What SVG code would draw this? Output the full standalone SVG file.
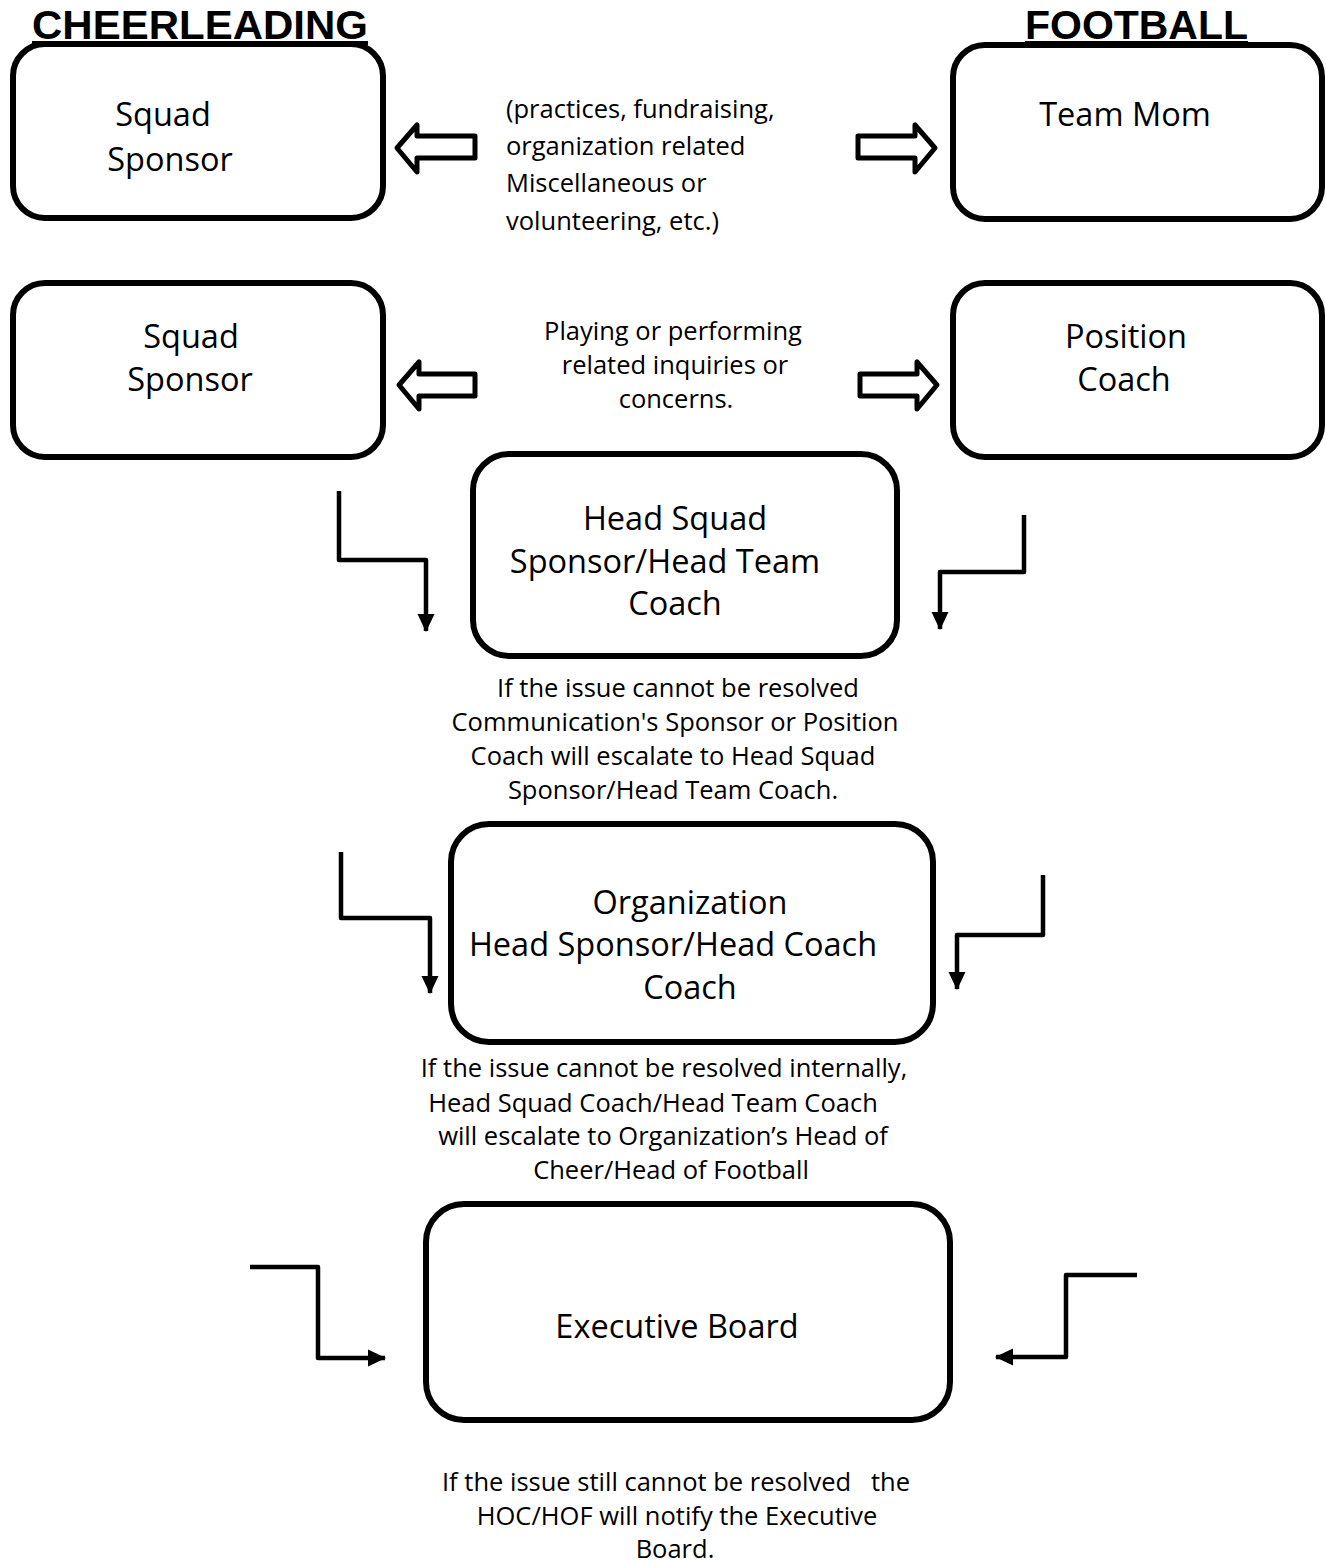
<svg xmlns="http://www.w3.org/2000/svg" width="1326" height="1562" viewBox="0 0 1326 1562">
<defs>
<style>
.box{fill:none;stroke:#000;stroke-width:6}
.lbl{font-family:"Open Sans","Noto Sans",sans-serif;font-size:32.5px;fill:#000;text-anchor:middle}
.sm{font-family:"Open Sans","Noto Sans",sans-serif;font-size:25.5px;fill:#000}
.c{text-anchor:middle}
.ttl{font-family:"Liberation Sans",Arial,sans-serif;font-size:40px;font-weight:bold;fill:#000;text-decoration:underline}
.blk{fill:#fff;stroke:#000;stroke-width:5;stroke-linejoin:round}
.con{fill:none;stroke:#000;stroke-width:4.5;stroke-linejoin:round}
</style>
<marker id="ah" markerUnits="userSpaceOnUse" markerWidth="18" markerHeight="18" viewBox="0 0 18 18" refX="17" refY="9" orient="auto">
<path d="M0,0.5 L18,9 L0,17.5 z" fill="#000"/>
</marker>
</defs>
<rect width="1326" height="1562" fill="#fff"/>

<g id="title-cheer"><text class="ttl" x="32" y="39" textLength="336" lengthAdjust="spacingAndGlyphs">CHEERLEADING</text></g>
<g id="title-football"><text class="ttl" x="1025" y="39" textLength="223" lengthAdjust="spacingAndGlyphs">FOOTBALL</text></g>

<g id="n-squad1">
<rect class="box" x="13" y="44" width="370" height="174" rx="32"/>
<text class="lbl" x="163" y="126">Squad</text>
<text class="lbl" x="170" y="171">Sponsor</text>
</g>
<g id="n-teammom">
<rect class="box" x="953" y="45" width="369" height="174" rx="32"/>
<text class="lbl" x="1125" y="126">Team Mom</text>
</g>
<g id="n-squad2">
<rect class="box" x="13" y="283" width="370" height="174" rx="32"/>
<text class="lbl" x="191" y="348">Squad</text>
<text class="lbl" x="190" y="391">Sponsor</text>
</g>
<g id="n-position">
<rect class="box" x="953" y="283" width="369" height="174" rx="32"/>
<text class="lbl" x="1126" y="348">Position</text>
<text class="lbl" x="1124" y="391">Coach</text>
</g>
<g id="n-head">
<rect class="box" x="473" y="454" width="424" height="202" rx="36"/>
<text class="lbl" x="675" y="530">Head Squad</text>
<text class="lbl" x="665" y="573">Sponsor/Head Team</text>
<text class="lbl" x="675" y="615">Coach</text>
</g>
<g id="n-org">
<rect class="box" x="451" y="824" width="482" height="218" rx="38"/>
<text class="lbl" x="690" y="914">Organization</text>
<text class="lbl" x="673" y="956">Head Sponsor/Head Coach</text>
<text class="lbl" x="690" y="999">Coach</text>
</g>
<g id="n-exec">
<rect class="box" x="426" y="1204" width="524" height="216" rx="38"/>
<text class="lbl" x="677" y="1338">Executive Board</text>
</g>

<g id="texts">
<text class="sm" x="506" y="118">(practices, fundraising,</text>
<text class="sm" x="506" y="155">organization related</text>
<text class="sm" x="506" y="192">Miscellaneous or</text>
<text class="sm" x="506" y="230">volunteering, etc.)</text>

<text class="sm c" x="673" y="340">Playing or performing</text>
<text class="sm c" x="675" y="374">related inquiries or</text>
<text class="sm c" x="676" y="408">concerns.</text>

<text class="sm c" x="678" y="697">If the issue cannot be resolved</text>
<text class="sm c" x="675" y="731">Communication's Sponsor or Position</text>
<text class="sm c" x="673" y="765">Coach will escalate to Head Squad</text>
<text class="sm c" x="673" y="799">Sponsor/Head Team Coach.</text>

<text class="sm c" x="664" y="1077">If the issue cannot be resolved internally,</text>
<text class="sm c" x="653" y="1112">Head Squad Coach/Head Team Coach</text>
<text class="sm c" x="663" y="1145">will escalate to Organization’s Head of</text>
<text class="sm c" x="671" y="1179">Cheer/Head of Football</text>

<text class="sm c" x="676" y="1491" xml:space="preserve">If the issue still cannot be resolved   the</text>
<text class="sm c" x="677" y="1525">HOC/HOF will notify the Executive</text>
<text class="sm c" x="675" y="1558">Board.</text>
</g>

<g id="connectors">
<path class="blk" d="M397,148 L417,125 L417,136 L475,136 L475,158 L417,158 L417,172 Z"/>
<path class="blk" d="M935,148 L915,125 L915,136 L858,136 L858,158 L915,158 L915,172 Z"/>
<path class="blk" d="M399,385 L419,362 L419,374 L475,374 L475,396 L419,396 L419,409 Z"/>
<path class="blk" d="M937,385 L917,362 L917,374 L860,374 L860,396 L917,396 L917,409 Z"/>

<path class="con" d="M339,491 L339,560 L426,560 L426,631" marker-end="url(#ah)"/>
<path class="con" d="M1024,515 L1024,572 L940,572 L940,629" marker-end="url(#ah)"/>
<path class="con" d="M341,852 L341,918 L430,918 L430,993" marker-end="url(#ah)"/>
<path class="con" d="M1043,875 L1043,935 L957,935 L957,989" marker-end="url(#ah)"/>
<path class="con" d="M250,1267 L318,1267 L318,1358 L385,1358" marker-end="url(#ah)"/>
<path class="con" d="M1137,1275 L1066,1275 L1066,1357 L996,1357" marker-end="url(#ah)"/>
</g>
</svg>
